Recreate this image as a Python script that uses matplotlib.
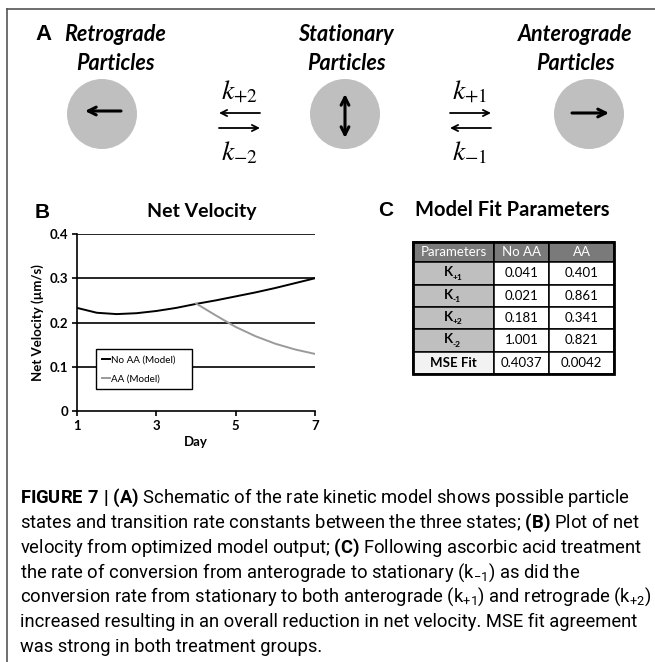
import matplotlib
matplotlib.use('Agg')
import matplotlib.pyplot as plt
from matplotlib import font_manager
from matplotlib.patches import Circle, Rectangle

# panel B data
days = [1, 1.5, 2, 2.5, 3, 3.5, 4, 4.5, 5, 5.5, 6, 6.5, 7]
no_aa = [0.233, 0.222, 0.219, 0.221, 0.226, 0.233, 0.242, 0.250, 0.259, 0.268, 0.278, 0.289, 0.300]
aa_days = [4, 4.5, 5, 5.5, 6, 6.5, 7]
aa = [0.243, 0.216, 0.190, 0.169, 0.152, 0.139, 0.129]
series_labels = ['No AA (Model)', 'AA (Model)']
x_ticks = [1, 3, 5, 7]
y_ticks = [0, 0.1, 0.2, 0.3, 0.4]
y_ticklabels = ['0', '0.1', '0.2', '0.3', '0.4']

# panel C table
col_headers = ['Parameters', 'No AA', 'AA']
param_names = ['+1', '-1', '+2', '-2']
no_aa_params = ['0.041', '0.021', '0.181', '1.001']
aa_params = ['0.401', '0.861', '0.341', '0.821']
mse_row = ['MSE Fit', '0.4037', '0.0042']

# panel A
state_names = ['Retrograde\nParticles', 'Stationary\nParticles', 'Anterograde\nParticles']

caption = [
    r"$\mathbf{FIGURE\ 7\ |\ (A)}$ Schematic of the rate kinetic model shows possible particle",
    r"states and transition rate constants between the three states; $\mathbf{(B)}$ Plot of net",
    r"velocity from optimized model output; $\mathbf{(C)}$ Following ascorbic acid treatment",
    r"the rate of conversion from anterograde to stationary (k$_{-1}$) as did the",
    r"conversion rate from stationary to both anterograde (k$_{+1}$) and retrograde (k$_{+2}$)",
    "increased resulting in an overall reduction in net velocity. MSE fit agreement",
    "was strong in both treatment groups.",
]

names = {f.name for f in font_manager.fontManager.ttflist}
cap_font = 'Roboto' if 'Roboto' in names else 'Liberation Sans'
plt.rcParams['mathtext.fontset'] = 'custom'
plt.rcParams['mathtext.rm'] = cap_font
plt.rcParams['mathtext.it'] = cap_font + ':italic'
plt.rcParams['mathtext.bf'] = cap_font + ':bold'

W, H = 655, 662
fig = plt.figure(figsize=(6.55, 6.62), dpi=100)

# overlay in pixel coordinates for the schematic, frame, table
ov = fig.add_axes([0, 0, 1, 1])
ov.set_xlim(0, W)
ov.set_ylim(H, 0)
ov.axis('off')

ov.plot([7, W], [8.5, 8.5], color='#555555', lw=1.2)
ov.plot([7.3, 7.3], [8.5, H], color='#555555', lw=1.2)

# ---- panel A ----
ov.text(35, 35, 'A', fontsize=16, fontweight='bold', family='Liberation Sans', ha='left', va='center')
label_x = [115, 346, 575]
circle_x = [102, 345, 589]
for lx, name in zip(label_x, state_names):
    ov.text(lx, 49, name, fontsize=15.5, fontweight='bold', fontstyle='italic', family='Lato',
            ha='center', va='center', linespacing=1.45)
for cx in circle_x:
    ov.add_patch(Circle((cx, 114), 35, color='#bfbfbf', lw=0))

arr = dict(lw=2.2, color='black', shrinkA=0, shrinkB=0, mutation_scale=14)
ov.annotate('', xy=(85, 111), xytext=(121, 111), arrowprops=dict(arrowstyle='->', **arr))
ov.annotate('', xy=(345, 94), xytext=(345, 138), arrowprops=dict(arrowstyle='<->', **arr))
ov.annotate('', xy=(609, 113), xytext=(572, 113), arrowprops=dict(arrowstyle='->', **arr))

thin = dict(lw=1.3, color='black', shrinkA=0, shrinkB=0, mutation_scale=11)
for kx, top, bot, upper_left in [(239, r'$k_{+2}$', r'$k_{-2}$', True),
                                 (470, r'$k_{+1}$', r'$k_{-1}$', False)]:
    ov.text(kx, 90, top, fontsize=20, math_fontfamily='stix', ha='center', va='center')
    ov.text(kx, 152, bot, fontsize=20, math_fontfamily='stix', ha='center', va='center')
    x0, x1 = kx - 20, kx + 21
    if upper_left:
        ov.annotate('', xy=(x0, 113), xytext=(x1, 113), arrowprops=dict(arrowstyle='->', **thin))
        ov.annotate('', xy=(x1, 128), xytext=(x0, 128), arrowprops=dict(arrowstyle='->', **thin))
    else:
        ov.annotate('', xy=(x1, 113), xytext=(x0, 113), arrowprops=dict(arrowstyle='->', **thin))
        ov.annotate('', xy=(x0, 128), xytext=(x1, 128), arrowprops=dict(arrowstyle='->', **thin))

# ---- panel B ----
ov.text(35, 212, 'B', fontsize=15, fontweight='bold', family='Liberation Sans', ha='left', va='center')
ov.text(202, 212, 'Net Velocity', fontsize=14, fontweight='bold', family='Lato', ha='center', va='center')

ax = fig.add_axes([77 / W, (H - 411) / H, 238 / W, 177 / H])
ax.set_xlim(1, 7)
ax.set_ylim(0, 0.4)
for yv in y_ticks[1:]:
    ax.axhline(yv, color='black', lw=1.2, zorder=1)
ax.plot(days, no_aa, color='black', lw=1.4, label=series_labels[0], zorder=3)
ax.plot(aa_days, aa, color='#9a9a9a', lw=1.4, label=series_labels[1], zorder=3)
ax.set_xticks(x_ticks)
ax.set_yticks(y_ticks)
ax.set_yticklabels(y_ticklabels)
for lab in ax.get_xticklabels() + ax.get_yticklabels():
    lab.set_fontweight('bold')
    lab.set_family('Lato')
    lab.set_fontsize(9.5)
ax.tick_params(axis='both', length=3.5, width=1.2, color='black', pad=3)
for s in ['top', 'right']:
    ax.spines[s].set_visible(False)
for s in ['left', 'bottom']:
    ax.spines[s].set_linewidth(1.2)
ax.set_xlabel('Day', fontsize=9.5, fontweight='bold', family='Lato', labelpad=3)
ax.set_ylabel('Net Velocity (\u00b5m/s)', fontsize=9.5, fontweight='bold', family='Lato', labelpad=4)
ax.set_facecolor('none')
leg = ax.legend(loc='lower left', bbox_to_anchor=(0.08, 0.124, 0.403, 0.232), mode='expand',
                fancybox=False, edgecolor='black', framealpha=1, handlelength=0.8,
                handletextpad=0.15, labelspacing=1.0, borderpad=0.6, borderaxespad=0,
                prop={'family': 'Lato', 'size': 7.1})
leg.get_frame().set_linewidth(1.0)

# ---- panel C ----
ov.text(378, 210, 'C', fontsize=15, fontweight='bold', family='Liberation Sans', ha='left', va='center')
ov.text(512, 210, 'Model Fit Parameters', fontsize=14.5, fontweight='bold', family='Lato', ha='center', va='center')

col_edges = [413, 494, 549, 614]
row_edges = [242, 262, 284.5, 307, 329, 351.5, 374]
col_cx = [(col_edges[i] + col_edges[i + 1]) / 2 for i in range(3)]

def cell(ci, ri, color):
    x0, x1 = col_edges[ci], col_edges[ci + 1]
    y0, y1 = row_edges[ri], row_edges[ri + 1]
    ov.add_patch(Rectangle((x0, y0), x1 - x0, y1 - y0, facecolor=color, edgecolor='black', lw=1.1))
    return (y0 + y1) / 2

for ci, h in enumerate(col_headers):
    cy = cell(ci, 0, '#7a7a7a')
    ov.text(col_cx[ci], cy, h, fontsize=9.5, color='white', family='Lato', ha='center', va='center')
for ri in range(4):
    cy = cell(0, ri + 1, '#bfbfbf')
    ov.text(col_cx[0] - 0.5, cy - 1, 'K', fontsize=9.5, fontweight='bold', family='Lato', ha='right', va='center')
    ov.text(col_cx[0] - 0.5, cy + 4, param_names[ri], fontsize=6, fontweight='bold', family='Lato',
            ha='left', va='center')
    cy = cell(1, ri + 1, 'white')
    ov.text(col_cx[1], cy, no_aa_params[ri], fontsize=9.5, family='Lato', ha='center', va='center')
    cy = cell(2, ri + 1, 'white')
    ov.text(col_cx[2], cy, aa_params[ri], fontsize=9.5, family='Lato', ha='center', va='center')
for ci, v in enumerate(mse_row):
    cy = cell(ci, 5, '#f2f2f2' if ci == 0 else 'white')
    ov.text(col_cx[ci], cy, v, fontsize=9.5, family='Lato', fontweight='bold' if ci == 0 else 'normal',
            ha='center', va='center')
ov.add_patch(Rectangle((col_edges[0], row_edges[0]), col_edges[-1] - col_edges[0],
                       row_edges[-1] - row_edges[0], fill=False, edgecolor='black', lw=2))

# ---- caption ----
cap_texts = []
for i, line in enumerate(caption):
    t = fig.text(20 / W, 1 - (503 + 24.8 * i) / H, line, fontsize=13, family=cap_font,
                 math_fontfamily='custom', ha='left', va='baseline')
    cap_texts.append(t)
r = fig.canvas.get_renderer()
w = cap_texts[0].get_window_extent(r).width
for t in cap_texts:
    t.set_fontsize(13 * 608 / w)

fig.savefig('out.png', dpi=100)
